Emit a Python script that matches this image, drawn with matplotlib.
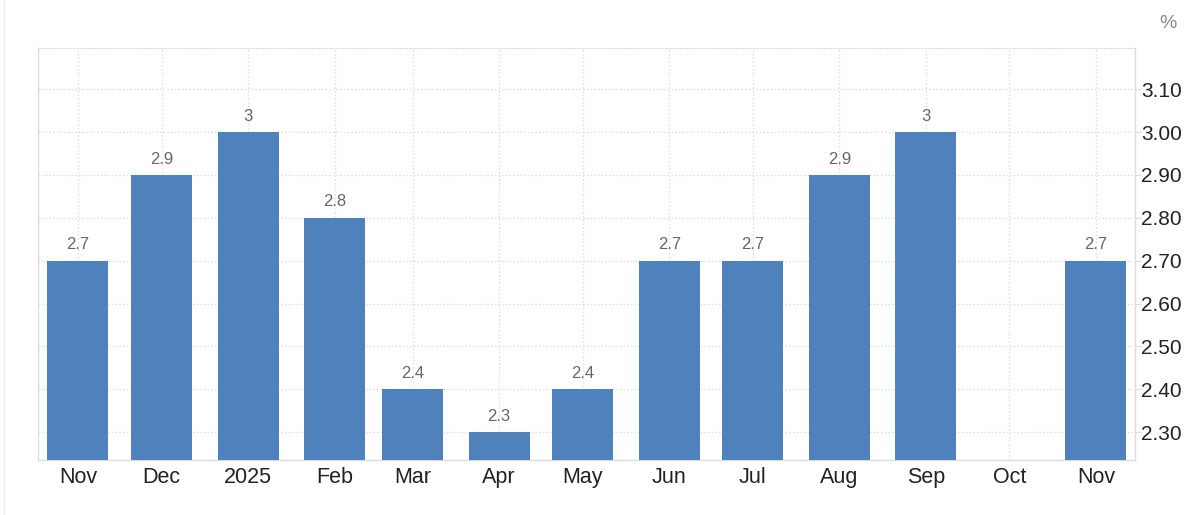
import matplotlib.pyplot as plt
import matplotlib.dates as mdates
from matplotlib.lines import Line2D
import pandas as pd
import numpy as np

plt.rcParams['font.family'] = ['Liberation Sans', 'DejaVu Sans']

dates = ['2024-11-01', '2024-12-01', '2025-01-01', '2025-02-01', '2025-03-01', '2025-04-01',
         '2025-05-01', '2025-06-01', '2025-07-01', '2025-08-01', '2025-09-01', '2025-10-01',
         '2025-11-01']
months = ['Nov', 'Dec', '2025', 'Feb', 'Mar', 'Apr', 'May', 'Jun', 'Jul', 'Aug', 'Sep', 'Oct', 'Nov']
values = [2.7, 2.9, 3.0, 2.8, 2.4, 2.3, 2.4, 2.7, 2.7, 2.9, 3.0, np.nan, 2.7]
yticks = [2.30, 2.40, 2.50, 2.60, 2.70, 2.80, 2.90, 3.00, 3.10]

bar_color = '#4f81bd'
grid_color = '#dcdcdc'

x = mdates.date2num(pd.to_datetime(dates))

fig = plt.figure(figsize=(12, 5.15), dpi=100)
ax = fig.add_axes([0.0317, 0.1068, 0.9141, 0.80])

ax.bar(x, values, width=21.9, color=bar_color, zorder=3)

for xi, v in zip(x, values):
    if np.isnan(v):
        continue
    ax.annotate('%g' % v, (xi, v), xytext=(0, 6), textcoords='offset points',
                ha='center', va='bottom', fontsize=12, color='#666666')

ax.set_xlim(x[0] - 14.3, x[-1] + 14.0)
ax.set_ylim(2.235, 3.196)

ax.set_xticks(x)
ax.set_xticklabels(months, fontsize=15.5, color='#222222')
ax.set_yticks(yticks)
ax.set_yticklabels(['%.2f' % t for t in yticks], fontsize=15, color='#222222')
ax.yaxis.tick_right()
ax.tick_params(axis='y', length=4, color=grid_color, pad=0.5)
ax.tick_params(axis='x', length=0, pad=5)

ax.grid(True, linestyle=':', color=grid_color, linewidth=1, zorder=0)
ax.set_axisbelow(True)

for side in ['left', 'right', 'bottom']:
    ax.spines[side].set_color(grid_color)
    ax.spines[side].set_linewidth(1)
ax.spines['top'].set_linestyle(':')
ax.spines['top'].set_color(grid_color)

# faint card border on the left
fig.add_artist(Line2D([0.003, 0.003], [0, 1], color='#eeeeee', linewidth=1))

fig.text(0.973, 0.955, '%', fontsize=14, color='#888888', ha='center', va='center')

fig.savefig('out.png', dpi=100)
